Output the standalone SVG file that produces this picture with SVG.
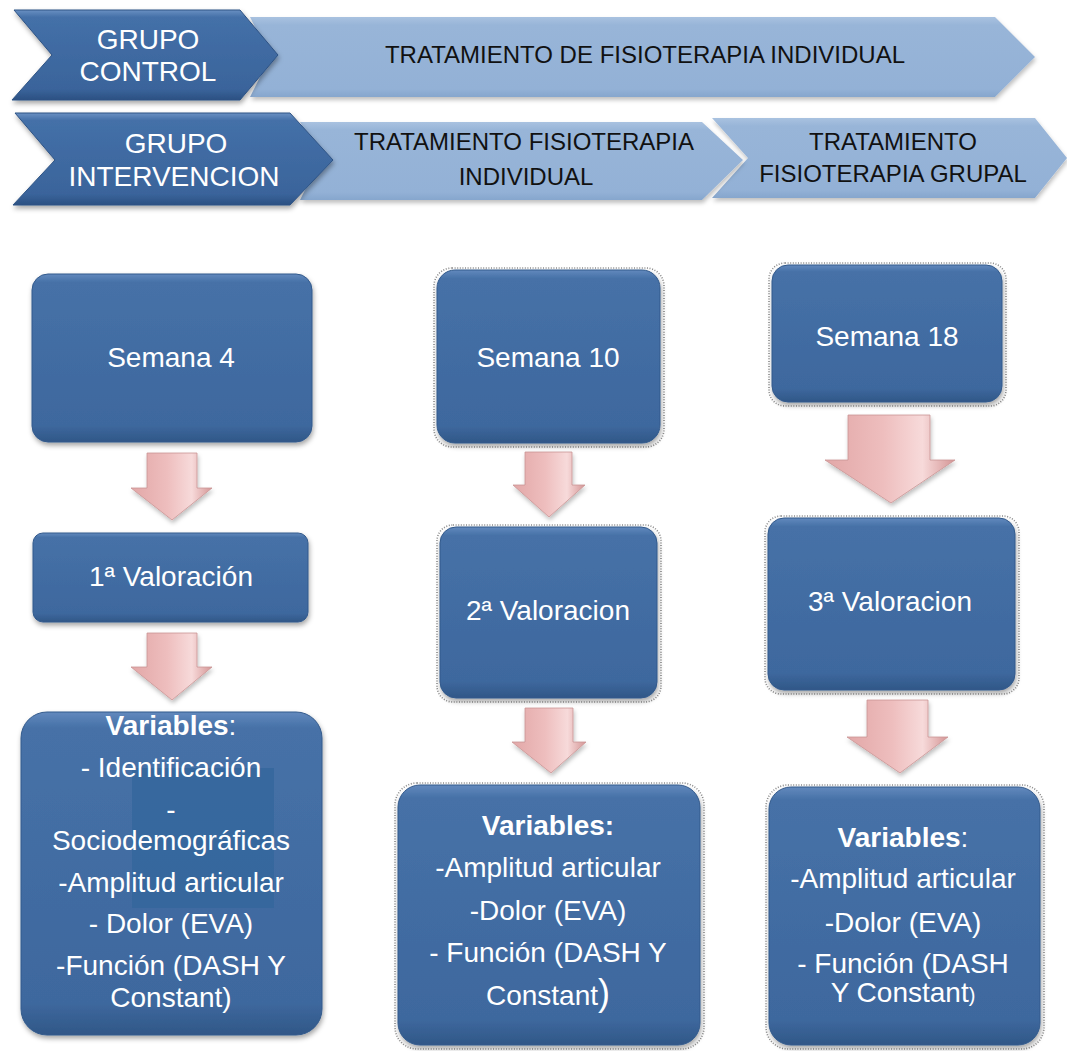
<svg xmlns="http://www.w3.org/2000/svg" width="1067" height="1051" viewBox="0 0 1067 1051">
<style>
.w{fill:#fff;font-family:"Liberation Sans",Arial,sans-serif;font-size:28px;text-anchor:middle}
.wb{font-weight:bold}
.k{fill:#111;font-family:"Liberation Sans",Arial,sans-serif;font-size:24px;text-anchor:middle}
.box{fill:url(#gBox);stroke:#335a8c;stroke-width:1;filter:url(#sh)}
.dark{fill:url(#gDark);stroke:#2e5384;stroke-width:1;filter:url(#sh)}
.light{fill:url(#gLight);filter:url(#sh2)}
.arr{fill:url(#gArr);stroke:#c99494;stroke-width:0.8;filter:url(#sh2)}
.dot{fill:none;stroke:#666;stroke-width:1.6;stroke-dasharray:1 1.6;opacity:0.75}
</style>
<defs>
<linearGradient id="gBox" x1="0" y1="0" x2="0" y2="1">
<stop offset="0" stop-color="#6289bd"/><stop offset="0.05" stop-color="#4671a7"/><stop offset="0.9" stop-color="#3e689e"/><stop offset="1" stop-color="#305787"/>
</linearGradient>
<linearGradient id="gDark" x1="0" y1="0" x2="0" y2="1">
<stop offset="0" stop-color="#6a90c2"/><stop offset="0.08" stop-color="#4470a8"/><stop offset="0.88" stop-color="#3a649b"/><stop offset="1" stop-color="#2b5082"/>
</linearGradient>
<linearGradient id="gLight" x1="0" y1="0" x2="0" y2="1">
<stop offset="0" stop-color="#a9c2e0"/><stop offset="0.1" stop-color="#98b5d8"/><stop offset="0.9" stop-color="#93b1d6"/><stop offset="1" stop-color="#86a6cd"/>
</linearGradient>
<linearGradient id="gArr" x1="0" y1="0" x2="1" y2="0">
<stop offset="0" stop-color="#e2a7a7"/><stop offset="0.45" stop-color="#eebebe"/><stop offset="0.75" stop-color="#f7dada"/><stop offset="1" stop-color="#d49595"/>
</linearGradient>
<filter id="sh" x="-10%" y="-10%" width="125%" height="125%"><feDropShadow dx="1" dy="3" stdDeviation="2.5" flood-color="#000" flood-opacity="0.35"/></filter>
<filter id="sh2" x="-10%" y="-10%" width="125%" height="130%"><feDropShadow dx="1" dy="3" stdDeviation="2" flood-color="#000" flood-opacity="0.25"/></filter>
</defs>
<rect width="1067" height="1051" fill="#fff"/>

<g id="tratamiento-individual-control">
<polygon class="light" points="250,17 995,17 1035,57 995,97 250,97 270,57"/>
<text class="k" x="645" y="63">TRATAMIENTO DE FISIOTERAPIA INDIVIDUAL</text>
</g>
<g id="grupo-control">
<polygon class="dark" points="14,10 240,10 278,55 240,100 12,100 52,55"/>
<text class="w" x="148" y="49">GRUPO</text>
<text class="w" x="148" y="81">CONTROL</text>
</g>

<g id="tratamiento-grupal">
<polygon class="light" points="712,118 1035,118 1067,158 1035,198 712,198 748,158"/>
<text class="k" x="893" y="150">TRATAMIENTO</text>
<text class="k" x="893" y="182">FISIOTERAPIA GRUPAL</text>
</g>
<g id="tratamiento-individual-intervencion">
<polygon class="light" points="300,122 702,122 743,160 702,200 300,200 320,160"/>
<text class="k" x="524" y="150">TRATAMIENTO FISIOTERAPIA</text>
<text class="k" x="526" y="185">INDIVIDUAL</text>
</g>
<g id="grupo-intervencion">
<polygon class="dark" points="15,113 290,113 333,160 290,205 13,205 55,160"/>
<text class="w" x="176" y="153">GRUPO</text>
<text class="w" x="174" y="186">INTERVENCION</text>
</g>

<g id="semana4">
<rect class="box" x="32" y="274" width="280" height="168" rx="16"/>
<text class="w" x="171" y="367">Semana 4</text>
</g>
<g id="valoracion1">
<rect class="box" x="33" y="533" width="275" height="89" rx="10"/>
<text class="w" x="171" y="586">1ª Valoración</text>
</g>
<g id="variables1">
<rect class="box" x="21" y="712" width="301" height="323" rx="26"/>
<rect x="132" y="768" width="142" height="140" fill="#33669c" opacity="0.8"/>
<text class="w wb" x="171" y="735">Variables<tspan font-weight="normal">:</tspan></text>
<text class="w" x="171" y="777">- Identificación</text>
<text class="w" x="171" y="819">-</text>
<text class="w" x="171" y="850">Sociodemográficas</text>
<text class="w" x="171" y="892">-Amplitud articular</text>
<text class="w" x="171" y="933">- Dolor (EVA)</text>
<text class="w" x="171" y="975">-Función (DASH Y</text>
<text class="w" x="171" y="1007">Constant)</text>
</g>

<g id="semana10">
<rect class="dot" x="434" y="268" width="230" height="179" rx="18"/>
<rect class="box" x="437" y="270" width="223" height="173" rx="18"/>
<text class="w" x="548" y="367">Semana 10</text>
</g>
<g id="valoracion2">
<rect class="dot" x="437" y="525" width="224" height="177" rx="16"/>
<rect class="box" x="440" y="527" width="217" height="171" rx="16"/>
<text class="w" x="548" y="620">2ª Valoracion</text>
</g>
<g id="variables2">
<rect class="dot" x="395" y="783" width="309" height="266" rx="22"/>
<rect class="box" x="398" y="785" width="302" height="260" rx="22"/>
<text class="w wb" x="548" y="835">Variables:</text>
<text class="w" x="548" y="877">-Amplitud articular</text>
<text class="w" x="548" y="920">-Dolor (EVA)</text>
<text class="w" x="548" y="962">- Función (DASH Y</text>
<text class="w" x="548" y="1005">Constant<tspan font-size="36">)</tspan></text>
</g>

<g id="semana18">
<rect class="dot" x="769" y="263" width="237" height="143" rx="16"/>
<rect class="box" x="772" y="265" width="230" height="137" rx="16"/>
<text class="w" x="887" y="346">Semana 18</text>
</g>
<g id="valoracion3">
<rect class="dot" x="765" y="516" width="254" height="178" rx="16"/>
<rect class="box" x="768" y="518" width="247" height="172" rx="16"/>
<text class="w" x="890" y="611">3ª Valoracion</text>
</g>
<g id="variables3">
<rect class="dot" x="766" y="785" width="278" height="264" rx="22"/>
<rect class="box" x="769" y="787" width="271" height="258" rx="22"/>
<text class="w wb" x="903" y="847">Variables<tspan font-weight="normal">:</tspan></text>
<text class="w" x="903" y="888">-Amplitud articular</text>
<text class="w" x="903" y="932">-Dolor (EVA)</text>
<text class="w" x="903" y="973">- Función (DASH</text>
<text class="w" x="903" y="1002">Y Constant<tspan font-size="20">)</tspan></text>
</g>

<g id="connectors">
<path class="arr" d="M147,453 H197 V488 H212 L172,520 L131,488 H147 Z"/>
<path class="arr" d="M147,633 H197 V667 H212 L172,700 L131,667 H147 Z"/>
<path class="arr" d="M525,452 H572 V485 H585 L549,517 L513,485 H525 Z"/>
<path class="arr" d="M525,708 H573 V742 H586 L551,773 L512,742 H525 Z"/>
<path class="arr" d="M848,415 H930 V460 H955 L891,503 L825,460 H848 Z"/>
<path class="arr" d="M867,700 H928 V737 H948 L900,773 L847,737 H867 Z"/>
</g>
</svg>
